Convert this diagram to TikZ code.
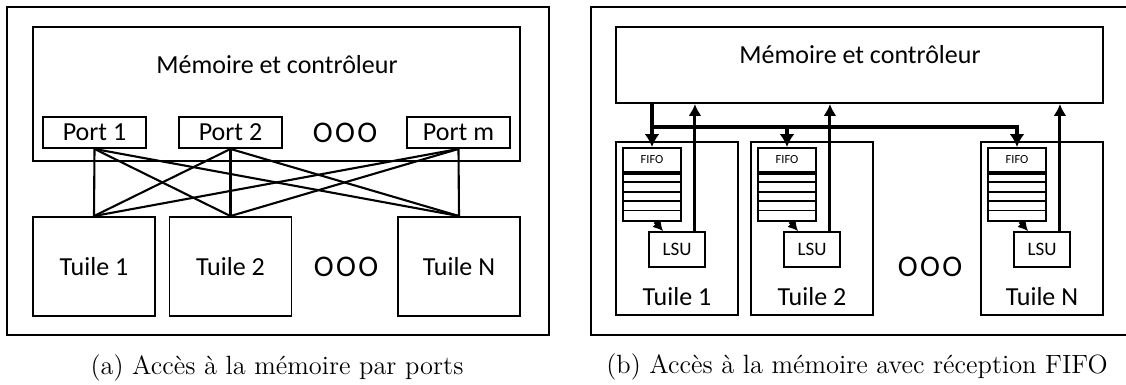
\documentclass[tikz,border=0pt]{standalone}
\usepackage{fontspec}
\newfontfamily\carlito{Carlito}
\usetikzlibrary{arrows.meta,positioning}

\begin{document}
\begin{tikzpicture}[x=0.5pt, y=-0.5pt, font=\carlito\fontsize{13}{15}\selectfont,
    box/.style={draw, line width=0.95pt, inner sep=0pt},
    port/.style={box, minimum width=51.5pt, minimum height=15.5pt},
    tuile/.style={box, minimum width=61pt, minimum height=49.5pt},
    dots/.style={font=\carlito\fontsize{15}{17}\selectfont},
    link/.style={line width=1.05pt},
    down/.style={line width=2.1pt, -{Latex[length=6.5pt,width=7.5pt]}},
    up/.style={line width=1.5pt, -{Latex[length=6pt,width=6.5pt]}},
    lsuarr/.style={line width=1.7pt, -{Latex[length=5pt,width=5.5pt]}},
    caption/.style={font=\rmfamily\fontsize{13.2}{16}\selectfont}]
  \useasboundingbox (0,0) rectangle (1126,385);

  % (a) ports
  \node[box, line width=1.1pt, minimum width=271pt, minimum height=164pt] (fa) at (278,171) {};
  \node[box, minimum width=243.5pt, minimum height=67pt] (mem) at (276.5,94) {};
  \node (memtxt) at (277,65) {Mémoire et contrôleur};
  \node[port] (p1) at (94.5,132.5) {Port 1};
  \node[port] (p2) at (230.5,132.5) {Port 2};
  \node[dots] (pdots) at (345,132.5) {O\kern1.2pt O\kern1.2pt O};
  \node[port] (pm) at (458.5,132.5) {Port m};
  \node[tuile] (t1) at (94,266.5) {Tuile 1};
  \node[tuile] (t2) at (230.5,266.5) {Tuile 2};
  \node[dots] (tdots) at (346,266.5) {O\kern1.2pt O\kern1.2pt O};
  \node[tuile] (tn) at (459,266.5) {Tuile N};
  \foreach \p in {p1,p2,pm}
    \foreach \t in {t1,t2,tn}
      \draw[link] (\p.south) -- (\t.north);
  \node[caption] (capa) at (277,368) {(a) Accès à la mémoire par ports};

  % (b) FIFO
  \draw[line width=1.1pt] (1126,7) -| (591,335) -- (1126,335);
  \node[box, minimum width=243.5pt, minimum height=38pt] (mem2) at (859.5,65) {};
  \node (mem2txt) at (860,55) {Mémoire et contrôleur};
  \coordinate (bus) at (0,127);
  \foreach \i/\L in {1/616,2/751,N/981} {
    \node[box, minimum width=61pt, minimum height=86.5pt] (tb\i) at ({\L+61},228.5) {};
    \node (n\i) at ({\L+61},297) {Tuile \i};
    \node[box, minimum width=29pt, minimum height=12pt, font=\carlito\fontsize{6.2}{7}\selectfont]
      (f\i) at ({\L+36},160) {FIFO};
    \node[box, minimum width=29pt, minimum height=23.5pt, anchor=north] (fb\i) at (f\i.south) {};
    \foreach \k in {1,...,4}
      \draw[line width=0.95pt] ([yshift=-\k*4.7pt]fb\i.north west) -- ([yshift=-\k*4.7pt]fb\i.north east);
    \node[box, minimum width=28pt, minimum height=17.5pt, font=\carlito\fontsize{9.5}{11}\selectfont]
      (l\i) at ({\L+61},249.5) {LSU};
    \draw[lsuarr] ([xshift=1.5pt]fb\i.south) -- ([xshift=7.5pt]l\i.north west);
    \draw[up] ([xshift=-5.5pt]l\i.north east) -- ([xshift=-5.5pt]l\i.north east |- mem2.south);
  }
  \draw[down] (f1.north |- mem2.south) -- (f1.north);
  \draw[down] (f1.north |- bus) -| (fN.north);
  \draw[down] (f2.north |- bus) -- (f2.north);
  \node[dots] (bdots) at (930,266.5) {O\kern1.2pt O\kern1.2pt O};
  \node[caption] (capb) at (857,367) {(b) Accès à la mémoire avec réception FIFO};
\end{tikzpicture}
\end{document}
